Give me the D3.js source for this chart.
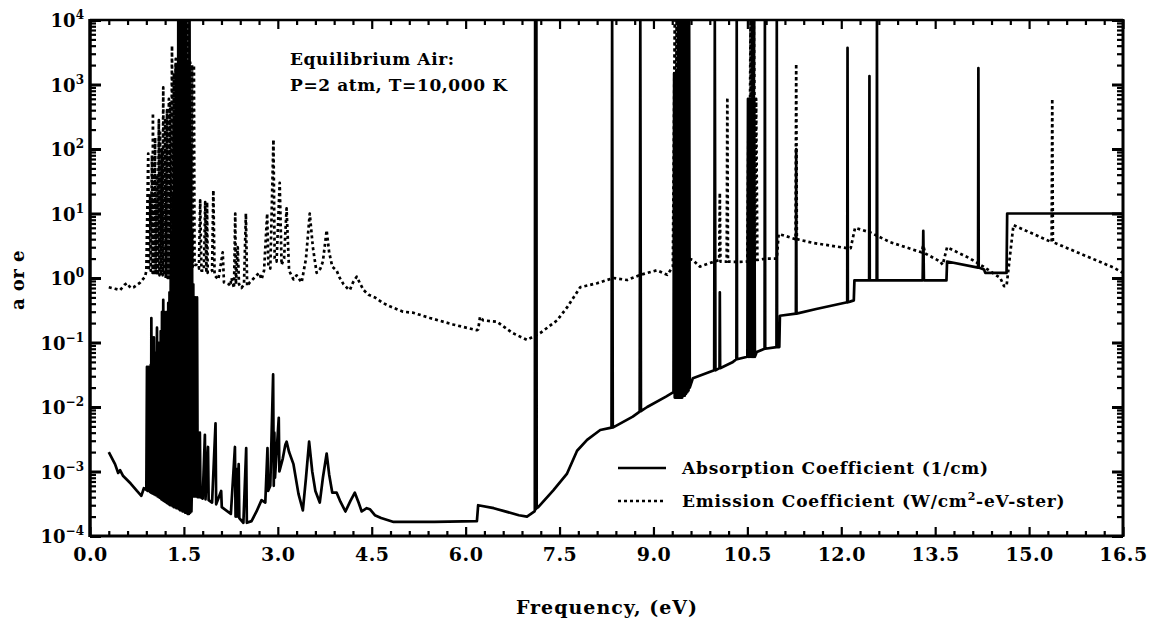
<!DOCTYPE html>
<html>
<head>
<meta charset="utf-8">
<script src="https://cdn.jsdelivr.net/npm/d3@7/dist/d3.min.js"></script>
<style>
body{margin:0;background:#fff}
svg text{font-family:"DejaVu Serif",serif;font-weight:bold;fill:#000}
</style>
</head>
<body>
<svg id="chart" width="1156" height="622"></svg>
<script>
const xTicks = [0, 1.5, 3, 4.5, 6, 7.5, 9, 10.5, 12, 13.5, 15, 16.5];
const xTickLabels = ["0.0", "1.5", "3.0", "4.5", "6.0", "7.5", "9.0", "10.5", "12.0", "13.5", "15.0", "16.5"];
const yTicks = [1e-4, 1e-3, 1e-2, 1e-1, 1e0, 1e1, 1e2, 1e3, 1e4];
const yTickExp = ["\u22124", "\u22123", "\u22122", "\u22121", "0", "1", "2", "3", "4"];

const seriesNames = ["Absorption Coefficient (1/cm)", "Emission Coefficient (W/cm", "2", "-eV-ster)"];
const noteLines = ["Equilibrium Air:", "P=2 atm, T=10,000 K"];

// [eV, value]  absorption coefficient, 1/cm
const absorption = [
  [0.30,2.0e-3],[0.40,1.3e-3],[0.45,0.95e-3],[0.48,1.05e-3],[0.53,0.85e-3],[0.65,0.65e-3],
  [0.75,0.5e-3],[0.82,0.42e-3],[0.86,0.55e-3],[0.90,0.52e-3],
  [0.91,0.042],[0.92,0.5e-3],[0.93,0.042],[0.94,0.5e-3],[0.95,0.042],[0.96,0.48e-3],
  [0.97,0.045],[0.975,0.47e-3],[0.98,0.24],[0.99,0.46e-3],[1.00,0.09],[1.01,0.45e-3],
  [1.02,0.12],[1.03,0.44e-3],[1.04,0.07],[1.05,0.43e-3],[1.07,0.17],[1.08,0.41e-3],
  [1.09,0.10],[1.10,0.40e-3],[1.11,0.076],[1.12,0.39e-3],[1.13,0.15],[1.14,0.37e-3],
  [1.15,0.3],[1.16,0.36e-3],[1.17,0.46],[1.18,0.35e-3],[1.19,0.3],[1.20,0.34e-3],
  [1.21,0.18],[1.22,0.33e-3],[1.23,0.3],[1.24,0.32e-3],[1.25,0.41],[1.26,0.31e-3],
  [1.27,0.6],[1.28,0.3e-3],[1.29,2],[1.30,0.3e-3],[1.31,5],[1.32,0.29e-3],
  [1.33,20],[1.34,0.28e-3],[1.35,300],[1.36,0.28e-3],[1.37,2000],[1.38,0.27e-3],
  [1.39,800],[1.40,0.27e-3],[1.41,1e4],[1.42,0.26e-3],[1.43,3000],[1.44,0.25e-3],
  [1.45,1e4],[1.46,0.25e-3],[1.47,1e4],[1.48,0.24e-3],[1.49,2500],[1.50,0.24e-3],
  [1.51,1e4],[1.52,0.23e-3],[1.53,1e4],[1.54,0.23e-3],[1.55,2000],[1.56,0.22e-3],
  [1.57,300],[1.58,0.22e-3],[1.59,1e4],[1.60,0.23e-3],[1.61,100],[1.62,0.24e-3],
  [1.625,0.42e-3],[1.63,5],[1.64,0.42e-3],[1.65,0.8],[1.66,0.41e-3],[1.68,0.5],
  [1.69,0.41e-3],[1.71,0.5],[1.72,0.40e-3],
  [1.75,0.40e-3],[1.755,0.004],[1.765,0.40e-3],[1.80,0.38e-3],[1.835,0.0037],[1.845,0.37e-3],
  [1.885,0.0024],[1.895,0.36e-3],[1.95,0.33e-3],[2.005,0.0056],[2.015,0.31e-3],
  [2.095,0.0005],[2.105,0.28e-3],[2.25,0.22e-3],[2.315,0.0024],[2.325,0.2e-3],
  [2.335,0.0011],[2.345,0.2e-3],[2.375,0.0013],[2.385,0.19e-3],[2.45,0.16e-3],
  [2.495,0.0023],[2.505,0.16e-3],[2.58,0.17e-3],[2.66,0.24e-3],[2.74,0.36e-3],
  [2.80,0.33e-3],[2.835,0.0023],[2.845,0.5e-3],[2.88,0.6e-3],[2.925,0.032],[2.935,0.6e-3],
  [2.945,0.004],[2.955,0.8e-3],[3.015,0.0068],[3.025,1.0e-3],[3.08,1.6e-3],[3.12,2.6e-3],
  [3.14,2.9e-3],[3.18,2.0e-3],[3.25,1.3e-3],[3.33,0.45e-3],[3.40,0.25e-3],[3.45,0.8e-3],
  [3.50,2.9e-3],[3.55,1.0e-3],[3.60,0.5e-3],[3.67,0.33e-3],[3.72,0.8e-3],[3.78,1.9e-3],
  [3.82,0.9e-3],[3.87,0.47e-3],[3.94,0.47e-3],[4.00,0.34e-3],[4.08,0.24e-3],[4.16,0.35e-3],
  [4.23,0.47e-3],[4.29,0.33e-3],[4.34,0.24e-3],[4.42,0.27e-3],[4.47,0.26e-3],[4.55,0.21e-3],
  [4.65,0.19e-3],[4.85,0.165e-3],[5.5,0.165e-3],[6.18,0.17e-3],
  [6.20,0.30e-3],[6.45,0.27e-3],[6.85,0.21e-3],[6.98,0.20e-3],[7.10,0.24e-3],
  [7.105,0.25e-3],[7.11,1e4],[7.12,0.26e-3],[7.13,1e4],[7.135,0.27e-3],[7.16,0.28e-3],
  [7.40,0.51e-3],[7.62,0.93e-3],[7.78,2.1e-3],[7.94,3.1e-3],[8.15,4.4e-3],
  [8.33,4.8e-3],[8.34,1e4],[8.35,4.8e-3],[8.67,7.1e-3],[8.78,8.5e-3],[8.79,1e4],[8.80,8.6e-3],
  [8.90,1.0e-2],[9.20,1.45e-2],[9.32,1.7e-2],
  [9.33,1500],[9.34,0.014],[9.35,1500],[9.36,0.014],[9.37,1500],[9.38,0.014],
  [9.39,1e4],[9.40,0.014],[9.41,1e4],[9.42,0.014],[9.43,1e4],[9.44,0.014],
  [9.45,1e4],[9.46,0.014],[9.47,1e4],[9.48,0.015],[9.49,1e4],[9.50,0.015],
  [9.51,1e4],[9.52,0.016],[9.53,1e4],[9.54,0.017],[9.55,1e4],[9.56,0.018],[9.57,1e4],
  [9.58,0.02],[9.63,2.8e-2],[9.97,3.7e-2],[9.98,1e4],[9.99,3.7e-2],
  [10.055,0.04],[10.06,0.6],[10.065,0.04],[10.27,5.0e-2],[10.325,0.055],[10.33,1e4],[10.335,0.055],
  [10.50,0.06],[10.51,600],[10.52,0.06],[10.53,600],[10.54,0.06],[10.55,600],[10.56,0.06],
  [10.57,600],[10.58,0.06],[10.59,600],[10.60,0.06],[10.61,600],[10.62,0.06],
  [10.65,7.1e-2],[10.775,0.08],[10.78,1e4],[10.785,0.08],
  [10.965,0.085],[10.97,1e4],[10.975,0.085],[11.01,0.085],[11.02,0.26],
  [11.275,0.28],[11.28,100],[11.285,0.28],[11.6,0.33],[12.095,0.42],[12.10,3700],[12.105,0.42],
  [12.14,0.43],[12.20,0.45],[12.21,0.92],[12.445,0.92],[12.45,1350],[12.455,0.92],
  [12.565,0.92],[12.57,1e4],[12.575,0.92],[13.30,0.92],[13.31,5.4],[13.32,0.92],
  [13.68,0.92],[13.69,1.8],[14.185,1.45],[14.19,1800],[14.195,1.45],[14.28,1.35],
  [14.30,1.2],[14.64,1.2],[14.65,10],[16.5,10]
];

// [eV, value]  emission coefficient, W/cm2-eV-ster
const emission = [
  [0.30,0.72],[0.40,0.68],[0.48,0.65],[0.55,0.78],[0.59,0.83],[0.65,0.7],[0.70,0.72],
  [0.80,0.85],[0.88,1.05],[0.90,1.3],
  [0.93,85],[0.94,1.3],[0.96,20],[0.97,1.3],[0.99,80],[1.00,1.2],[1.005,360],[1.02,1.2],
  [1.04,150],[1.05,1.2],[1.07,40],[1.08,1.1],[1.10,280],[1.11,1.1],[1.12,180],[1.13,1.1],
  [1.15,100],[1.16,1.1],[1.17,900],[1.18,1.1],[1.20,300],[1.21,1.0],[1.23,400],[1.24,1.0],
  [1.26,600],[1.27,1.0],[1.28,540],[1.29,1.0],[1.31,4000],[1.32,1.0],[1.34,1500],[1.35,0.9],
  [1.37,2500],[1.38,0.9],[1.40,1500],[1.41,0.9],[1.44,2200],[1.45,0.9],[1.47,1e4],[1.48,0.9],
  [1.50,3000],[1.51,0.9],[1.53,5000],[1.54,0.9],[1.55,1e4],[1.56,1.0],[1.57,1e4],[1.58,1.2],
  [1.60,2200],[1.61,1.4],[1.63,2000],[1.64,1.5],[1.66,2000],[1.67,1.6],
  [1.70,1.6],[1.74,1.4],[1.76,16],[1.78,1.3],[1.82,1.3],[1.84,15],[1.86,1.2],[1.87,15],
  [1.88,1.2],[1.95,1.3],[1.97,23],[1.99,1.1],[2.05,0.95],[2.12,2.5],[2.14,0.85],[2.22,0.8],
  [2.24,0.75],[2.26,1.0],[2.30,0.7],[2.32,10],[2.33,0.8],[2.36,3],[2.38,0.8],[2.42,0.7],
  [2.46,0.8],[2.49,10],[2.51,0.75],[2.55,0.85],[2.62,1.0],[2.70,1.2],[2.74,0.95],[2.78,1.3],
  [2.83,10],[2.85,1.5],[2.88,1.4],[2.93,140],[2.95,2],[2.98,1.8],[3.03,30],[3.06,1.6],
  [3.10,2],[3.14,12],[3.18,1.3],[3.25,0.95],[3.30,1.1],[3.38,0.85],[3.45,2],[3.51,10],
  [3.56,3],[3.62,1.2],[3.68,1.4],[3.72,1.8],[3.78,5.5],[3.82,2.5],[3.87,1.5],[3.94,1.3],
  [3.99,1.0],[4.05,0.8],[4.12,0.68],[4.15,0.65],[4.20,0.85],[4.26,1.05],[4.32,0.8],
  [4.37,0.65],[4.45,0.55],[4.55,0.5],[4.68,0.41],[4.80,0.36],[5.0,0.3],[5.16,0.29],
  [5.43,0.24],[5.8,0.19],[6.18,0.155],[6.20,0.16],[6.23,0.25],[6.28,0.22],[6.5,0.21],
  [6.75,0.14],[6.98,0.11],[7.19,0.14],[7.46,0.22],[7.62,0.35],[7.83,0.72],[8.1,0.83],
  [8.36,1.0],[8.58,0.93],[8.79,1.12],[9.06,1.32],[9.22,1.12],[9.31,1.5],
  [9.34,1e4],[9.35,1.6],[9.37,1e4],[9.38,1.6],[9.40,1e4],[9.41,1.7],[9.43,1e4],[9.44,1.8],
  [9.46,1e4],[9.47,1.9],[9.49,1e4],[9.50,2.0],[9.52,1e4],[9.53,2.0],[9.55,1e4],[9.56,2.0],
  [9.63,1.9],[9.74,1.5],[9.90,1.7],[10.05,1.9],[10.06,21],[10.07,1.8],[10.17,1.8],
  [10.18,630],[10.19,1.8],[10.27,1.78],[10.38,1.78],[10.50,1.8],[10.52,550],[10.53,1.8],
  [10.55,1e4],[10.56,1.8],[10.58,1e4],[10.59,1.8],[10.61,1e4],[10.62,1.8],[10.64,600],
  [10.66,1.9],[10.80,2.0],[10.97,2.0],[11.00,4.8],[11.07,4.6],[11.27,4.0],[11.28,2100],
  [11.29,4.0],[11.55,3.5],[12.09,2.9],[12.15,2.9],[12.22,6.0],[12.46,5.1],[12.78,3.6],
  [13.28,2.5],[13.31,3.2],[13.34,2.4],[13.58,1.8],[13.62,1.6],[13.69,3.0],[14.06,2.0],
  [14.27,1.5],[14.54,1.0],[14.60,0.75],[14.64,0.75],[14.75,6.6],[15.36,3.6],[15.37,600],
  [15.38,3.6],[16.35,1.45],[16.5,1.2]
];

const plot = {left: 90, right: 1123, top: 20, bottom: 536};

const svg = d3.select("#chart");

const x = d3.scaleLinear().domain([0, 16.5]).range([plot.left, plot.right]);
const y = d3.scaleLog().domain([1e-4, 1e4]).range([plot.bottom, plot.top]);

svg.append("defs").append("clipPath").attr("id", "plotclip")
  .append("rect")
  .attr("x", plot.left).attr("y", plot.top - 1)
  .attr("width", plot.right - plot.left).attr("height", plot.bottom - plot.top + 2);

// ticks, all pointing inward
const xMinor = d3.range(0, 16.51, 0.3).filter(v => !xTicks.some(t => Math.abs(t - v) < 1e-6));
const yMinor = [];
yTicks.slice(0, -1).forEach(d => { for (let k = 2; k <= 9; k++) yMinor.push(d * k); });

const axes = svg.append("g").attr("class", "axes");

axes.append("g")
  .attr("transform", `translate(0,${plot.bottom})`)
  .call(d3.axisBottom(x).tickValues(xTicks).tickSize(-9).tickPadding(12)
        .tickFormat((d, i) => xTickLabels[i]))
  .call(g => g.select(".domain").remove())
  .call(g => g.selectAll("line").attr("stroke-width", 2.2))
  .call(g => g.selectAll("text").attr("font-size", 19).attr("font-family", null)
              .attr("letter-spacing", 0.5));

axes.append("g")
  .attr("transform", `translate(0,${plot.bottom})`)
  .call(d3.axisBottom(x).tickValues(xMinor).tickSize(-5).tickFormat(""))
  .call(g => g.select(".domain").remove())
  .call(g => g.selectAll("line").attr("stroke-width", 2.2));

axes.append("g")
  .attr("transform", `translate(0,${plot.top})`)
  .call(d3.axisTop(x).tickValues(xTicks).tickSize(-9).tickFormat(""))
  .call(g => g.select(".domain").remove())
  .call(g => g.selectAll("line").attr("stroke-width", 2.2));

axes.append("g")
  .attr("transform", `translate(0,${plot.top})`)
  .call(d3.axisTop(x).tickValues(xMinor).tickSize(-5).tickFormat(""))
  .call(g => g.select(".domain").remove())
  .call(g => g.selectAll("line").attr("stroke-width", 2.2));

[[d3.axisLeft, plot.left], [d3.axisRight, plot.right]].forEach(([axisFn, pos]) => {
  axes.append("g")
    .attr("transform", `translate(${pos},0)`)
    .call(axisFn(y).tickValues(yTicks).tickSize(-11).tickFormat(""))
    .call(g => g.select(".domain").remove())
    .call(g => g.selectAll("line").attr("stroke-width", 3));
  axes.append("g")
    .attr("transform", `translate(${pos},0)`)
    .call(axisFn(y).tickValues(yMinor).tickSize(-6).tickFormat(""))
    .call(g => g.select(".domain").remove())
    .call(g => g.selectAll("line").attr("stroke-width", 2.2));
});

// y tick labels with exponents
const yLab = axes.append("g").selectAll("text")
  .data(yTicks)
  .join("text")
  .attr("x", 84)
  .attr("y", d => y(d) + 7)
  .attr("text-anchor", "end")
  .attr("font-size", 18);
yLab.append("tspan").text("10");
yLab.append("tspan")
  .attr("dy", -8)
  .attr("font-size", 12)
  .text((d, i) => yTickExp[i]);

// data
const line = d3.line().x(d => x(d[0])).y(d => y(d[1]));
const data = svg.append("g").attr("clip-path", "url(#plotclip)");

data.append("path")
  .datum(emission)
  .attr("d", line)
  .attr("fill", "none")
  .attr("stroke", "#000")
  .attr("stroke-width", 2.7)
  .attr("stroke-dasharray", "3,3")
  .attr("stroke-linejoin", "round");

data.append("path")
  .datum(absorption)
  .attr("d", line)
  .attr("fill", "none")
  .attr("stroke", "#000")
  .attr("stroke-width", 2.7)
  .attr("stroke-linejoin", "round");

// frame
const frame = svg.append("g").attr("stroke", "#000").attr("fill", "none");
frame.append("line").attr("x1", plot.left).attr("x2", plot.left)
  .attr("y1", plot.top - 1).attr("y2", plot.bottom + 1).attr("stroke-width", 3.5);
frame.append("line").attr("x1", plot.right).attr("x2", plot.right)
  .attr("y1", plot.top - 1).attr("y2", plot.bottom + 1).attr("stroke-width", 3);
frame.append("line").attr("x1", plot.left).attr("x2", plot.right)
  .attr("y1", plot.top).attr("y2", plot.top).attr("stroke-width", 2.5);
frame.append("line").attr("x1", plot.left).attr("x2", plot.right)
  .attr("y1", plot.bottom).attr("y2", plot.bottom).attr("stroke-width", 3);

// titles
svg.append("text")
  .attr("x", 607).attr("y", 614)
  .attr("text-anchor", "middle")
  .attr("font-size", 19)
  .attr("letter-spacing", 1)
  .text("Frequency, (eV)");

svg.append("text")
  .attr("transform", "translate(24,280) rotate(-90)")
  .attr("text-anchor", "middle")
  .attr("font-size", 18)
  .attr("letter-spacing", 0.5)
  .text("a or e");

svg.append("g").selectAll("text")
  .data(noteLines)
  .join("text")
  .attr("x", 290)
  .attr("y", (d, i) => 65 + i * 26)
  .attr("font-size", 17)
  .attr("letter-spacing", 0.6)
  .text(d => d);

// legend
const legend = svg.append("g").attr("transform", "translate(618,468)");
legend.append("line").attr("x1", 0).attr("x2", 48).attr("y1", 0).attr("y2", 0)
  .attr("stroke", "#000").attr("stroke-width", 2.7);
legend.append("line").attr("x1", 0).attr("x2", 48).attr("y1", 33).attr("y2", 33)
  .attr("stroke", "#000").attr("stroke-width", 2.7).attr("stroke-dasharray", "3,3");
legend.append("text").attr("x", 64).attr("y", 6).attr("font-size", 17)
  .attr("letter-spacing", 0.8).text(seriesNames[0]);
const em = legend.append("text").attr("x", 64).attr("y", 39).attr("font-size", 17)
  .attr("letter-spacing", 0.8);
em.append("tspan").text(seriesNames[1]);
em.append("tspan").attr("dy", -7).attr("font-size", 11).text(seriesNames[2]);
em.append("tspan").attr("dy", 7).text(seriesNames[3]);
</script>
</body>
</html>
